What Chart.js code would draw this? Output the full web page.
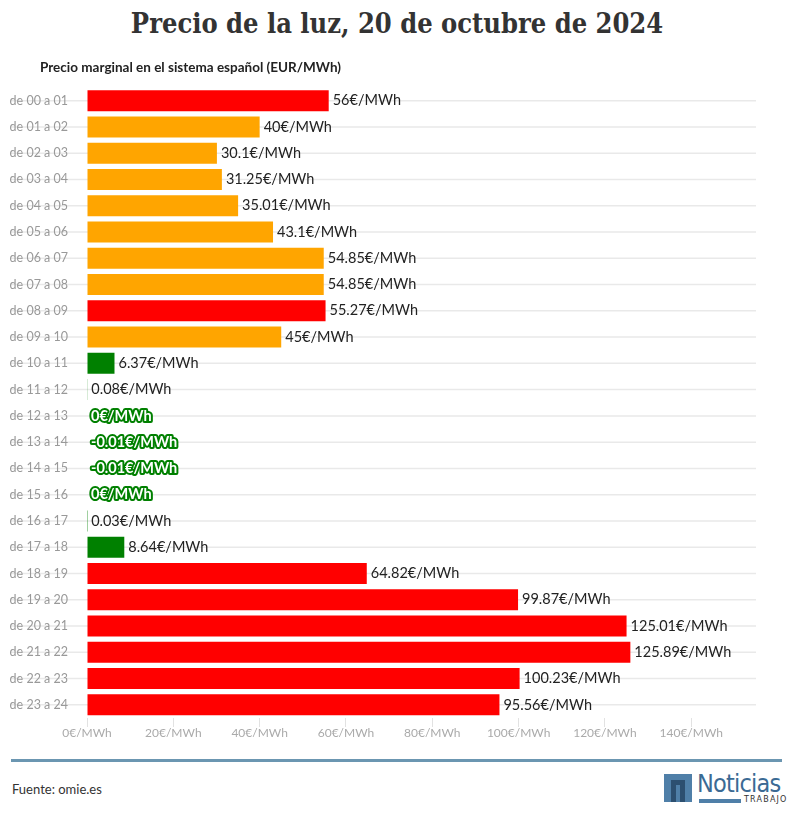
<!DOCTYPE html>
<html lang="es">
<head>
<meta charset="utf-8">
<title>Precio de la luz, 20 de octubre de 2024</title>
<script src="https://cdn.jsdelivr.net/npm/chart.js@4.4.1/dist/chart.umd.min.js"></script>
<style>
    body { margin: 0; background: #fff; width: 794px; height: 820px; position: relative; overflow: hidden; font-family: Lato, sans-serif; }
    #titulo { position: absolute; top: 8px; left: 0; width: 794px; text-align: center; font-family: "DejaVu Serif Condensed", "DejaVu Serif", serif; font-weight: bold; font-size: 27px; color: #333; }
    #subtitulo { position: absolute; top: 59px; left: 40px; font-weight: bold; font-size: 13.5px; color: #222; }
    #grafico { position: absolute; top: 61px; left: 0; width: 794px; height: 689px; }
    #linea { position: absolute; top: 759px; left: 11px; width: 771px; height: 3px; background: #6b96b1; }
    #fuente { position: absolute; top: 781px; left: 12px; font-size: 13px; color: #333; }
    #logo-n { position: absolute; top: 774px; left: 664px; width: 28px; height: 28px; background: #4f7fa8; }
    #logo-n span { position: absolute; left: 7px; top: 6px; width: 14px; height: 22px; background: #2c4f70; }
    #logo-n span::after { content: ""; position: absolute; left: 5px; top: 5px; width: 4px; height: 17px; background: #4f7fa8; }
    #logo-txt { position: absolute; top: 769px; left: 697px; font-family: "DejaVu Sans Condensed", "DejaVu Sans", sans-serif; font-size: 25px; color: #3b6a94; letter-spacing: -0.8px; }
    #logo-bar { position: absolute; top: 799px; left: 699px; width: 42px; height: 4px; background: #4f7fa8; }
    #logo-sub { position: absolute; top: 795px; left: 744px; font-family: "DejaVu Sans", sans-serif; font-size: 8px; letter-spacing: 1.2px; color: #333; }
</style>
</head>
<body>
<div id="grafico"><canvas id="preciosChart"></canvas></div>
<div id="titulo">Precio de la luz, 20 de octubre de 2024</div>
<div id="subtitulo">Precio marginal en el sistema español (EUR/MWh)</div>
<div id="linea"></div>
<div id="fuente">Fuente: omie.es</div>
<div id="logo-n"><span></span></div>
<div id="logo-txt">Noticias</div>
<div id="logo-bar"></div>
<div id="logo-sub">TRABAJO</div>
<script>
// Datos: precio marginal por hora (EUR/MWh)
const horas = [
    'de 00 a 01', 'de 01 a 02', 'de 02 a 03', 'de 03 a 04', 'de 04 a 05', 'de 05 a 06',
    'de 06 a 07', 'de 07 a 08', 'de 08 a 09', 'de 09 a 10', 'de 10 a 11', 'de 11 a 12',
    'de 12 a 13', 'de 13 a 14', 'de 14 a 15', 'de 15 a 16', 'de 16 a 17', 'de 17 a 18',
    'de 18 a 19', 'de 19 a 20', 'de 20 a 21', 'de 21 a 22', 'de 22 a 23', 'de 23 a 24'
];
const precios = [
    56, 40, 30.1, 31.25, 35.01, 43.1,
    54.85, 54.85, 55.27, 45, 6.37, 0.08,
    0, -0.01, -0.01, 0, 0.03, 8.64,
    64.82, 99.87, 125.01, 125.89, 100.23, 95.56
];
const ticksX = [0, 20, 40, 60, 80, 100, 120, 140];

// Color según el tramo de precio
function colorPrecio(v) {
    if (v >= 55) return '#ff0000';
    if (v >= 10) return '#ffa500';
    return '#008000';
}

// Líneas horizontales que cruzan las etiquetas
const lineasFondo = {
    id: 'lineasFondo',
    beforeDraw(chart) {
        const { ctx, chartArea, scales } = chart;
        ctx.save();
        ctx.strokeStyle = '#e9e9e9';
        ctx.lineWidth = 1.5;
        scales.y.ticks.forEach((t, i) => {
            const y = scales.y.getPixelForTick(i);
            ctx.beginPath();
            ctx.moveTo(10, y);
            ctx.lineTo(chartArea.right, y);
            ctx.stroke();
        });
        ctx.restore();
    }
};

// Etiquetas de valor al final de cada barra
const etiquetas = {
    id: 'etiquetas',
    afterDatasetsDraw(chart) {
        const { ctx, scales } = chart;
        const meta = chart.getDatasetMeta(0);
        const base = scales.x.getPixelForValue(0);
        ctx.save();
        ctx.textBaseline = 'middle';
        ctx.textAlign = 'left';
        meta.data.forEach((bar, i) => {
            const v = precios[i];
            const txt = v + '€/MWh';
            const x = Math.max(bar.x, base) + 4;
            if (v <= 0) {
                ctx.font = 'bold 14.5px Lato';
                ctx.lineJoin = 'round';
                ctx.lineWidth = 4;
                ctx.strokeStyle = '#008000';
                ctx.strokeText(txt, x, bar.y);
                ctx.fillStyle = '#ffffff';
                ctx.fillText(txt, x, bar.y);
            } else {
                ctx.font = '14.5px Lato';
                ctx.fillStyle = '#222';
                ctx.fillText(txt, x, bar.y);
            }
        });
        ctx.restore();
    }
};

const ctxPrecios = document.getElementById('preciosChart').getContext('2d');
const preciosChart = new Chart(ctxPrecios, {
    type: 'bar',
    data: {
        labels: horas,
        datasets: [{
            label: 'Precio marginal',
            data: precios,
            backgroundColor: precios.map(colorPrecio),
            borderWidth: 0,
            barPercentage: 0.8,
            categoryPercentage: 1
        }]
    },
    options: {
        indexAxis: 'y',
        responsive: true,
        maintainAspectRatio: false,
        animation: false,
        layout: { padding: { top: 6, right: 38, left: 0, bottom: 0 } },
        scales: {
            x: {
                min: 0,
                max: 155,
                afterBuildTicks(scale) {
                    scale.ticks = ticksX.map(v => ({ value: v }));
                },
                afterFit(scale) { scale.height = 32; },
                border: { display: false },
                grid: { drawOnChartArea: false, tickLength: 9, color: '#e2e2e2' },
                ticks: {
                    color: '#aaa',
                    font: { family: 'Lato', size: 12 },
                    padding: -1,
                    callback: v => v + '€/MWh'
                }
            },
            y: {
                afterFit(scale) { scale.width = 87; },
                border: { display: false },
                grid: { display: false, drawTicks: false },
                ticks: {
                    color: '#999',
                    font: { family: 'Lato', size: 12.5 },
                    padding: 19
                }
            }
        },
        plugins: {
            legend: { display: false },
            tooltip: { enabled: false }
        }
    },
    plugins: [lineasFondo, etiquetas]
});
</script>
</body>
</html>
